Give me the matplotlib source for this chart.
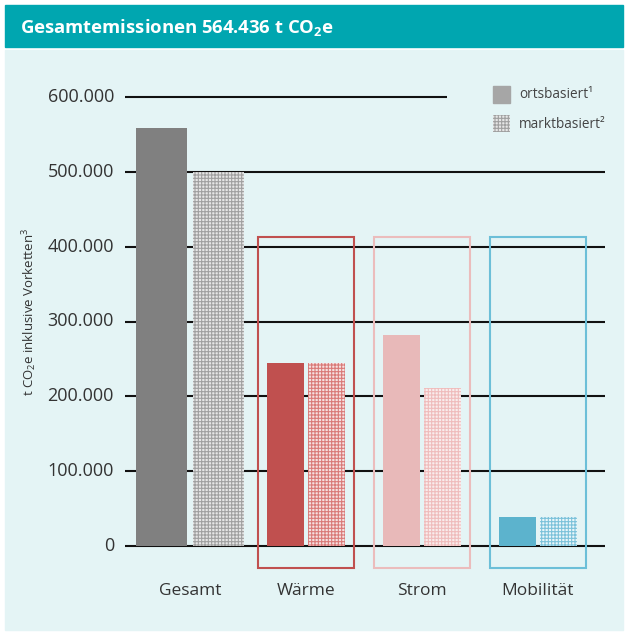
import numpy as np
import matplotlib.pyplot as plt
from matplotlib.patches import Rectangle

plt.rcParams['font.family'] = ['Open Sans', 'DejaVu Sans']
plt.rcParams['mathtext.fontset'] = 'custom'
plt.rcParams['mathtext.rm'] = 'Open Sans'
plt.rcParams['mathtext.bf'] = 'Open Sans:bold'
plt.rcParams['hatch.linewidth'] = 0.8

# data (t CO2e)
categories = ['Gesamt', 'Wärme', 'Strom', 'Mobilität']
ortsbasiert = [559000, 245000, 282000, 39000]
marktbasiert = [500000, 245000, 211000, 39000]
yticks = [0, 100000, 200000, 300000, 400000, 500000, 600000]
ytick_labels = ['0', '100.000', '200.000', '300.000', '400.000', '500.000', '600.000']
box_top = 413000
box_bottom = -29500

# colours
bg = '#e4f4f5'
teal = '#00a6b0'
solid_cols = ['#808080', '#c0504f', '#e8b9b9', '#5cb3cd']
hatch_cols = ['#a0a0a0', '#d97a78', '#efbcbc', '#7cc2da']
hatch_bg = ['#e6e6e6', '#f6e0e0', '#f9ecec', '#e9f6fa']
box_cols = [None, '#c0504f', '#ebbcbc', '#6cbfd8']

fig = plt.figure(figsize=(6.28, 6.36), dpi=100)
W, H = 628, 636

def fig_rect(x0, y0, x1, y1, color, z=-1):
    fig.patches.append(Rectangle((x0 / W, 1 - y1 / H), (x1 - x0) / W, (y1 - y0) / H,
                                 transform=fig.transFigure, color=color, zorder=z))

fig_rect(5, 50, 623, 630, bg)
fig_rect(5, 5, 623, 47, teal)
fig.text(20 / W, 1 - 27 / H, r'Gesamtemissionen 564.436 t CO$_\mathbf{2}$e', color='white',
         fontsize=13.3, fontweight='bold', va='center', ha='left')

# axes placed in pixel frame
px_l, px_r, px_t, px_b = 125, 605, 60, 600
ax = fig.add_axes([px_l / W, 1 - px_b / H, (px_r - px_l) / W, (px_b - px_t) / H])
ax.set_facecolor('none')
scale = 449 / 600000  # px per t
ax.set_xlim(-0.56, 3.578)
ax.set_ylim(-(px_b - 546) / scale, (546 - px_t) / scale)
ax.axis('off')

# grid lines
for v, lab in zip(yticks, ytick_labels):
    x_end = 2.216 if v == 600000 else 3.578
    ax.plot([-0.56, x_end], [v, v], color='#111111', lw=1.5, zorder=1, solid_capstyle='butt')
    ax.text(-0.655, v, lab, ha='right', va='center', fontsize=13, color='#333333')

x = np.arange(len(categories))
offs = [0.248, 0.177, 0.177, 0.177]
widths = [0.44, 0.315, 0.315, 0.315]
for i in range(len(categories)):
    ax.bar(x[i] - offs[i], ortsbasiert[i], width=widths[i], color=solid_cols[i], zorder=3)
    ax.bar(x[i] + offs[i], marktbasiert[i], width=widths[i], facecolor=hatch_bg[i],
           edgecolor=hatch_cols[i], hatch='+++++', lw=0, zorder=3)
    if box_cols[i]:
        ax.add_patch(Rectangle((x[i] - 0.414, box_bottom), 0.828, box_top - box_bottom,
                               fill=False, edgecolor=box_cols[i], lw=1.5, zorder=4, clip_on=False))
    ax.text(x[i], -60000, categories[i], ha='center', va='center', fontsize=12.5, color='#333333')

# y label
fig.text(30 / W, 1 - 312 / H, 't CO$_2$e inklusive Vorketten$^3$', rotation=90,
         ha='center', va='center', fontsize=9.5, color='#333333')

# legend
fig_rect(493, 86, 510, 103, '#a6a6a6', z=1)
fig.patches.append(Rectangle((493 / W, 1 - 132 / H), 17 / W, 17 / H, transform=fig.transFigure,
                             facecolor='#e6e6e6', edgecolor='#a0a0a0', hatch='+++++', lw=0))
fig.text(519 / W, 1 - 95 / H, 'ortsbasiert¹', fontsize=9.8, va='center', color='#444444')
fig.text(519 / W, 1 - 124 / H, 'marktbasiert²', fontsize=9.8, va='center', color='#444444')

fig.savefig('out.png', dpi=100)
